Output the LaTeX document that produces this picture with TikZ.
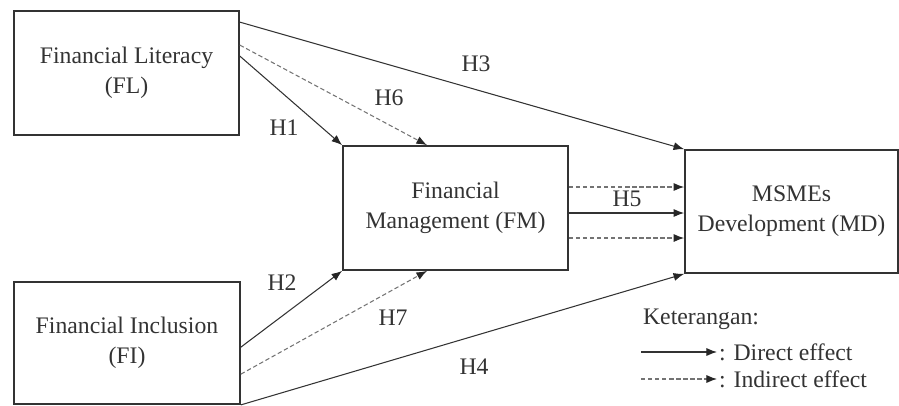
\documentclass[tikz,border=0pt]{standalone}
\usepackage{fontspec}
\setmainfont{Liberation Serif}
\usetikzlibrary{arrows.meta}

\begin{document}
\begin{tikzpicture}[
    >={Latex[length=6pt,width=4.6pt,color=black!85]},
    font=\fontsize{13.5}{17}\selectfont,
    text=black!80,
    block/.style={draw=black!80, line width=1pt, minimum width=4.5cm, minimum height=2.48cm, align=center},
    edge/.style={draw=black!80, line width=0.6pt},
    indirect/.style={edge, draw=black!55, dash pattern=on 2.5pt off 1.5pt},
    hyp/.style={inner sep=1pt},
    legend/.style={inner sep=1pt, anchor=west}
  ]
  \useasboundingbox (0,0) rectangle (17.98,-8.1);

  \node (fl) at (2.53, -1.46) [block] {Financial Literacy\\(FL)};
  \node (fi) at (2.54, -6.86) [block, minimum width=4.52cm, minimum height=2.44cm] {Financial Inclusion\\(FI)};
  \node (fm) at (9.11, -4.16) [block] {Financial\\Management (FM)};
  \node (md) at (15.83, -4.23) [block, minimum width=4.26cm, minimum height=2.46cm] {MSMEs\\Development (MD)};

  % direct and indirect paths
  \draw [edge, ->] ([yshift=-0.24cm]fl.north east) -- (md.north west);
  \draw [indirect, ->] ([yshift=-0.7cm]fl.north east) -- ([xshift=-0.57cm]fm.north);
  \draw [edge, ->] ([yshift=-0.92cm]fl.north east) -- (fm.north west);
  \draw [edge, ->] ([yshift=-1.32cm]fi.north east) -- (fm.south west);
  \draw [indirect, ->] ([yshift=-1.86cm]fi.north east) -- ([xshift=-0.57cm]fm.south);
  \draw [edge, ->] (fi.south east) -- (md.south west);

  \draw [indirect, ->] ([yshift=0.42cm]fm.east) -- ([yshift=0.42cm]fm.east -| md.west);
  \draw [edge, ->] ([yshift=-0.1cm]fm.east) -- ([yshift=-0.1cm]fm.east -| md.west);
  \draw [indirect, ->] ([yshift=-0.6cm]fm.east) -- ([yshift=-0.6cm]fm.east -| md.west);

  % hypothesis labels
  \node (h1) at (5.68, -2.56) [hyp] {H1};
  \node (h2) at (5.64, -5.66) [hyp] {H2};
  \node (h3) at (9.52, -1.28) [hyp] {H3};
  \node (h4) at (9.48, -7.34) [hyp] {H4};
  \node (h5) at (12.54, -3.97) [hyp] {H5};
  \node (h6) at (7.78, -1.96) [hyp] {H6};
  \node (h7) at (7.86, -6.36) [hyp] {H7};

  % legend
  \node (ket) at (12.82, -6.38) [legend] {Keterangan:};
  \node (direct) at (14.34, -7.04) [legend] {: Direct effect};
  \node (indir) at (14.34, -7.58) [legend] {: Indirect effect};
  \coordinate (ds) at (12.82, -7.04);
  \coordinate (is) at (12.82, -7.58);
  \draw [edge, ->] (ds) -- (direct.west);
  \draw [indirect, ->] (is) -- (indir.west);
\end{tikzpicture}
\end{document}
